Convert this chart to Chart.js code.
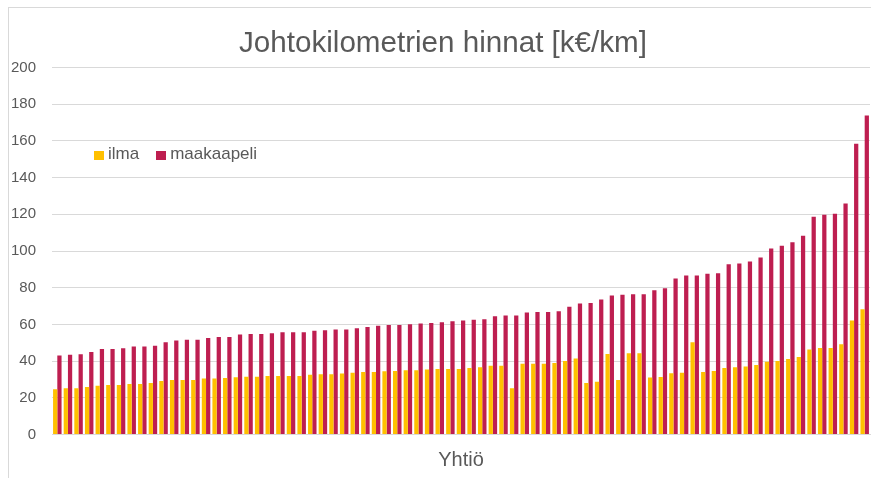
<!DOCTYPE html>
<html>
<head>
<meta charset="utf-8">
<script src="https://cdn.jsdelivr.net/npm/chart.js@4/dist/chart.umd.min.js"></script>
<style>
  html, body { margin: 0; padding: 0; background: #fff; overflow: hidden; }
  #wrap { position: relative; width: 871px; height: 478px; overflow: hidden; }
  #frame { position: absolute; left: 8px; top: 7px; width: 900px; height: 600px; border: 1px solid #d9d9d9; }
  #chart { position: absolute; left: 0; top: 0; }
  #legend { position: absolute; left: 94px; top: 144px; display: flex; align-items: flex-start;
            font: 17px "Liberation Sans", Arial, sans-serif; line-height: 20px; color: #595959; }
  #legend .item { display: flex; align-items: flex-start; margin-right: 17px; }
  #legend .box { width: 10px; height: 9px; margin-top: 7px; margin-right: 4px; }
</style>
</head>
<body>
<div id="wrap">
  <div id="frame"></div>
  <canvas id="chart" width="887" height="478"></canvas>
  <div id="legend"></div>
</div>
<script>
// Values (k€/km), sorted by underground cable price
const ilma = [
  24.6, 25.2, 25.2, 25.9, 26.6, 27.0, 27.0, 27.5, 27.5, 28.1, 29.2, 29.7, 29.7, 29.7, 30.5, 30.5, 30.8, 31.2,
  31.5, 31.5, 31.9, 31.9, 31.9, 31.9, 32.5, 32.8, 32.8, 33.2, 33.6, 34.1, 34.1, 34.5, 34.6, 35.0, 35.0, 35.4, 35.7,
  35.7, 35.7, 36.3, 36.6, 37.4, 37.4, 25.2, 38.5, 38.5, 38.5, 39.0, 40.1, 41.4, 28.1, 28.8, 43.9, 29.7, 44.3, 44.3,
  31.0, 31.4, 33.4, 33.7, 50.3, 34.1, 34.6, 36.3, 36.6, 37.0, 37.9, 39.6, 40.1, 41.2, 42.3, 46.3, 47.2, 47.2, 49.2, 62.1, 68.3
];
const maakaapeli = [
  43.0, 43.4, 43.7, 45.0, 46.6, 46.6, 47.0, 47.9, 47.9, 48.3, 50.3, 51.2, 51.6, 51.6, 52.6, 53.2, 53.2, 54.5,
  54.8, 54.8, 55.2, 55.7, 55.7, 55.7, 56.5, 56.8, 57.2, 57.2, 57.9, 58.6, 59.2, 59.7, 59.7, 60.1, 60.5, 60.8, 61.2,
  61.7, 62.1, 62.5, 62.8, 64.5, 64.8, 64.8, 66.5, 66.8, 66.8, 67.2, 69.6, 71.4, 71.7, 73.6, 75.7, 76.1, 76.5, 76.5,
  78.6, 79.7, 85.0, 86.7, 86.7, 87.6, 87.9, 92.8, 93.2, 94.3, 96.5, 101.4, 102.8, 104.8, 108.3, 118.7, 119.7, 120.3, 125.9, 158.5, 173.8
];
// company names are not shown on the chart
const companies = ilma.map((_, i) => 'Yhtiö ' + (i + 1));
const seriesNames = ['ilma', 'maakaapeli'];
const seriesColors = ['#FFC000', '#BE1E50'];

const textColor = '#595959';
const font = '"Liberation Sans", Arial, sans-serif';

// the original title is centred on the outer frame, a bit right of the canvas centre
const titleShift = {
    id: 'titleShift',
    afterLayout(chart) {
        if (chart.titleBlock) chart.titleBlock.left += 16;
    }
};

const chart = new Chart(document.getElementById('chart'), {
    type: 'bar',
    data: {
        labels: companies,
        datasets: [
            { label: seriesNames[0], data: ilma, backgroundColor: seriesColors[0] },
            { label: seriesNames[1], data: maakaapeli, backgroundColor: seriesColors[1] }
        ]
    },
    options: {
        responsive: false,
        animation: false,
        layout: { padding: { left: 0, right: 17, top: 0, bottom: 0 } },
        datasets: { bar: { categoryPercentage: 0.8, barPercentage: 1.0, borderWidth: 0 } },
        plugins: {
            legend: { display: false },
            tooltip: { enabled: false },
            title: {
                display: true,
                text: 'Johtokilometrien hinnat [k€/km]',
                color: textColor,
                font: { family: font, size: 29.6, weight: 'normal' },
                padding: { top: 26, bottom: 6 }
            }
        },
        scales: {
            x: {
                grid: { display: false, drawTicks: false },
                border: { color: '#d9d9d9' },
                ticks: { display: false },
                title: {
                    display: true,
                    text: 'Yhtiö',
                    color: textColor,
                    font: { family: font, size: 20 },
                    padding: { top: 14, bottom: 5.5 }
                }
            },
            y: {
                min: 0,
                max: 200,
                ticks: { stepSize: 20, color: textColor, font: { family: font, size: 15 }, padding: 16 },
                grid: { color: '#d9d9d9', drawTicks: false },
                border: { display: false },
                afterFit: s => { s.width = 52; }
            }
        }
    },
    plugins: [titleShift]
});

// legend drawn inside the plot area like the original
const legend = document.getElementById('legend');
chart.data.datasets.forEach(ds => {
    const item = document.createElement('span');
    item.className = 'item';
    const box = document.createElement('span');
    box.className = 'box';
    box.style.background = ds.backgroundColor;
    const txt = document.createElement('span');
    txt.textContent = ds.label;
    item.appendChild(box);
    item.appendChild(txt);
    legend.appendChild(item);
});
</script>
</body>
</html>
